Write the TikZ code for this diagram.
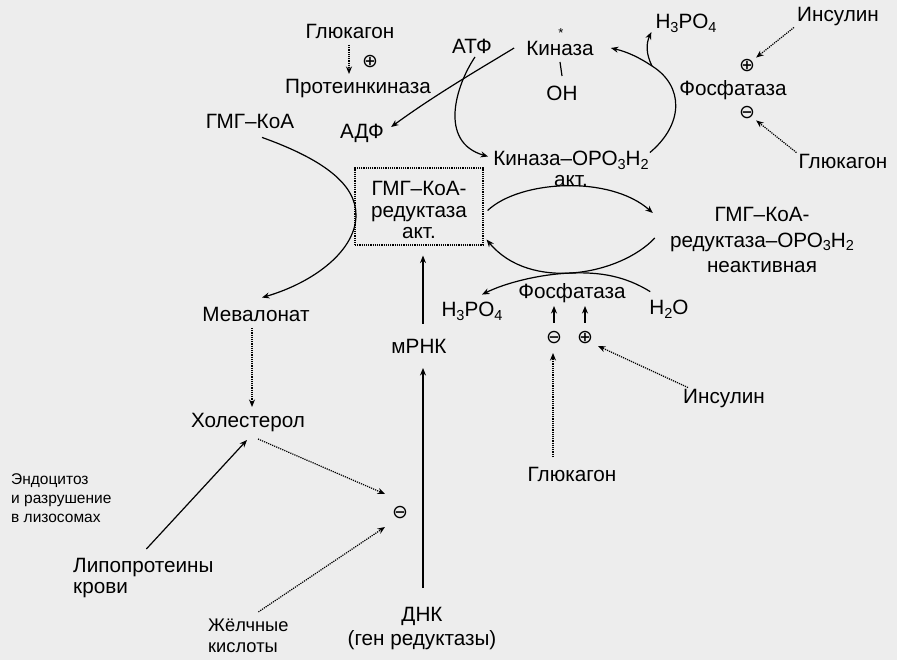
\documentclass[tikz,border=0pt]{standalone}
\usepackage{fontspec}
\setmainfont{Liberation Sans}
\newfontfamily\symfont{DejaVu Sans}
\usetikzlibrary{arrows.meta}
\newcommand\sbs[1]{\raisebox{-0.35ex}{\fontsize{14.5}{14.5}\selectfont #1}}
\definecolor{paper}{RGB}{237,237,237}
\begin{document}
\begin{tikzpicture}[x=1pt,y=-1pt,
  lbl/.style={inner sep=1pt,font=\fontsize{20.7}{24}\selectfont},
  small/.style={inner sep=1pt,font=\fontsize{15.5}{19}\selectfont,align=left},
  sym/.style={inner sep=0pt,font=\symfont\fontsize{19}{19}\selectfont},
  arr/.style={line width=1.2pt,-{Stealth[length=7.5pt,width=6pt]}},
  dotarr/.style={line width=1.2pt,densely dotted,-{Stealth[length=7.5pt,width=6pt]}},
  plain/.style={line width=1.2pt}
]
\path[fill=paper] (0,0) rectangle (897,660);
\useasboundingbox (0,0) rectangle (897,660);

% nodes
\node[lbl] (glA) at (350,31) {Глюкагон};
\node[sym] (pl1) at (370,62) {⊕};
\node[lbl] (pk) at (358,89) {Протеинкиназа};
\node[lbl] (atf) at (472,46) {АТФ};
\node[lbl] (kin) at (560,48) {Киназа};
\node[inner sep=0pt,font=\fontsize{13}{13}\selectfont] (star) at (561,33) {*};
\node[lbl] (oh) at (562,93) {ОН};
\node[lbl] (adf) at (362,133) {АДФ};
\node[lbl] (hmg) at (250,121) {ГМГ–КоА};
\node[lbl,align=center,font=\fontsize{20.7}{20.5}\selectfont] (kinp) at (571,169)
      {Киназа–ОРО\sbs{3}Н\sbs{2}\\акт.};
\node[draw,densely dotted,line width=1.2pt,minimum width=128pt,minimum height=77pt] (box) at (419,206.5) {};
\node[align=center,inner sep=1pt,font=\fontsize{20.7}{21.5}\selectfont] (boxtxt) at (419,210)
      {ГМГ–КоА-\\редуктаза\\акт.};
\node[lbl,align=center,font=\fontsize{20.7}{25.5}\selectfont] (red2) at (762,240)
      {ГМГ–КоА-\\редуктаза–ОРО\sbs{3}Н\sbs{2}\\неактивная};
\node[lbl] (h3a) at (686,23) {H\sbs{3}PO\sbs{4}};
\node[lbl] (insA) at (838,17) {Инсулин};
\node[sym] (pl2) at (747,66) {⊕};
\node[lbl] (fosA) at (733,90) {Фосфатаза};
\node[sym] (mi2) at (747,113) {⊖};
\node[lbl] (glB) at (843,161) {Глюкагон};
\node[lbl] (fosB) at (572,293) {Фосфатаза};
\node[lbl] (h3b) at (472,311) {H\sbs{3}PO\sbs{4}};
\node[lbl] (h2o) at (669,309) {H\sbs{2}O};
\node[sym] (mi3) at (554,338) {⊖};
\node[sym] (pl3) at (585,338) {⊕};
\node[lbl] (glC) at (572,474) {Глюкагон};
\node[lbl] (insB) at (724,399) {Инсулин};
\node[lbl] (mrnk) at (419,346) {мРНК};
\node[lbl] (dnk) at (422,616) {ДНК};
\node[lbl] (gen) at (422,640) {(ген редуктазы)};
\node[lbl] (mev) at (256,314) {Мевалонат};
\node[lbl] (chol) at (248,423) {Холестерол};
\node[sym] (mi4) at (400,513) {⊖};
\node[small,anchor=north west] (endo) at (10,472) {Эндоцитоз\\и разрушение\\в лизосомах};
\node[lbl,align=left,anchor=west,font=\fontsize{20.7}{21}\selectfont] (lipo) at (72,578) {Липопротеины\\крови};
\node[lbl,align=left,anchor=west,font=\fontsize{18.3}{21}\selectfont] (bile) at (207,636) {Жёлчные\\кислоты};

% connectors
\draw[dotarr] ([shift={(-1,14)}]glA.center) -- ([shift={(-9,-15)}]pk.center);
\draw[plain] ([shift={(0,14)}]kin.center) -- ([shift={(0,-17)}]oh.center);
\draw[arr] ([shift={(-11,0)}]kin.west) .. controls (488,64) and (436,94) .. ([shift={(6,-6)}]adf.east);
\draw[arr] ([shift={(3,11)}]atf.center) .. controls (456,85) and (438,142) .. ([shift={(-4,-12.5)}]kinp.west);
\draw[arr] ([shift={(12,8)}]hmg.south) .. controls (325,160) and (356,185) .. (356,215)
      .. controls (356,250) and (315,282) .. ([shift={(6,-8)}]mev.north);
\coordinate (br) at (652,66);
\draw[arr] ([shift={(0,-16.5)}]kinp.east) .. controls (684,124) and (684,86) .. (br)
      .. controls (640,58) and (628,52) .. ([shift={(16,0)}]kin.east);
\draw[arr] (br) .. controls (646,54) and (646,44) .. ([shift={(-3,9)}]h3a.west);
\draw[dotarr] ([shift={(-2,0)}]insA.south west) -- ([shift={(1,-2)}]pl2.north east);
\draw[dotarr] ([shift={(-1,0)}]glB.north west) -- ([shift={(1,1)}]mi2.south east);
\draw[arr] ([shift={(4,4)}]box.east) .. controls (520,180) and (610,175) .. ([shift={(-16,-27)}]red2.west);
\draw[arr] ([shift={(-14,-2)}]red2.west) .. controls (620,275) and (530,292) .. ([shift={(3,-6)}]box.south east);
\draw[arr] ([shift={(2,-7)}]h2o.north west) .. controls (625,276) and (600,272) .. (572,273)
      .. controls (540,274) and (505,283) .. ([shift={(10,-6)}]h3b.north);
\draw[arr] ([shift={(0,-15)}]mi3.center) -- ([shift={(0,-32)}]mi3.center);
\draw[arr] ([shift={(0,-15)}]pl3.center) -- ([shift={(0,-32)}]pl3.center);
\draw[dotarr] ([shift={(-19,-17)}]glC.center) -- ([shift={(-1,15)}]mi3.center);
\draw[dotarr] ([shift={(6,-1)}]insB.north west) -- ([shift={(13,8)}]pl3.center);
\draw[arr] ([shift={(4,-22)}]mrnk.center) -- ([shift={(4,10)}]box.south);
\draw[arr] ([shift={(1,-28)}]dnk.center) -- ([shift={(4,22)}]mrnk.center);
\draw[dotarr] ([shift={(-4,14)}]mev.center) -- ([shift={(4,-16)}]chol.center);
\draw[dotarr] ([shift={(10,16)}]chol.center) -- ([shift={(-15,-19)}]mi4.center);
\draw[dotarr] ([shift={(10,-6)}]bile.north) -- ([shift={(-15,14)}]mi4.center);
\draw[arr] ([shift={(3,-8)}]lipo.north) -- ([shift={(-1,17)}]chol.center);
\end{tikzpicture}
\end{document}
